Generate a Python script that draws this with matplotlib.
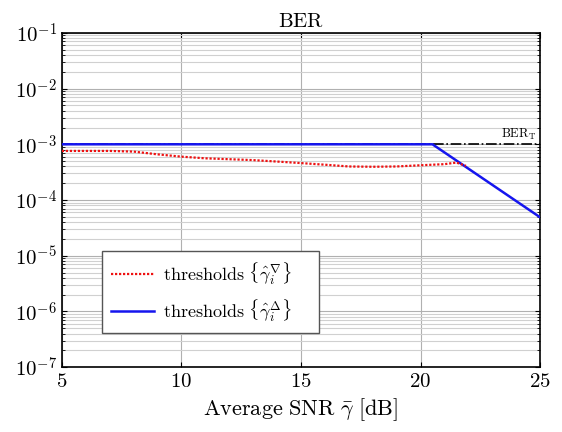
import matplotlib
matplotlib.use("Agg")
import matplotlib.pyplot as plt
import numpy as np

plt.rcParams['mathtext.fontset'] = 'cm'
plt.rcParams['font.family'] = ['DejaVu Serif']

snr_red = [5, 6, 7, 8, 9, 10, 11, 12, 13, 14, 15, 16, 17, 18, 19, 20, 21, 21.5, 21.9]
ber_red = [7.6e-4, 7.6e-4, 7.6e-4, 7.4e-4, 6.6e-4, 6.0e-4, 5.6e-4, 5.4e-4, 5.2e-4, 4.9e-4,
           4.6e-4, 4.3e-4, 4.0e-4, 3.95e-4, 4.0e-4, 4.2e-4, 4.4e-4, 4.7e-4, 4.1e-4]
snr_blue = [5, 20.5, 25]
ber_blue = [1e-3, 1e-3, 4.9e-5]
ber_target = 1e-3
xticks = [5, 10, 15, 20, 25]

fig = plt.figure(figsize=(5.62, 4.32), dpi=100)
ax = fig.add_axes([0.110, 0.150, 0.851, 0.774])

ax.plot([5, 25], [ber_target, ber_target], color='black', linestyle='-.', lw=1.2, zorder=3)
ax.plot(snr_blue, ber_blue, color='#1515ee', lw=1.8, zorder=4,
        label=r'$\mathrm{thresholds}\ \{\hat{\gamma}_i^{\Delta}\}$')
ax.plot(snr_red, ber_red, color='#ee1111', linestyle=(0, (1, 0.8)), lw=1.6, zorder=5,
        label=r'$\mathrm{thresholds}\ \{\hat{\gamma}_i^{\nabla}\}$')

ax.set_yscale('log')
ax.set_xlim(5, 25)
ax.set_ylim(1e-7, 1e-1)
ax.set_xticks(xticks)
ax.set_xticklabels([r'$%d$' % v for v in xticks], fontsize=15)
ax.set_yticks([10.0**k for k in range(-7, 0)])
ax.set_yticklabels([r'$10^{%d}$' % k for k in range(-7, 0)], fontsize=15)
ax.grid(True, which='major', color='#b0b0b0', lw=0.8)
ax.grid(True, which='minor', axis='y', color='#d0d0d0', lw=0.8)
ax.tick_params(direction='in', which='both', top=True, right=True)
for s in ax.spines.values():
    s.set_linewidth(1.2)

ax.set_title(r'$\mathrm{BER}$', fontsize=15, pad=4)
ax.set_xlabel(r'$\mathrm{Average\ SNR}\ \bar{\gamma}\ \mathrm{[dB]}$', fontsize=16)
ax.text(24.1, 1.12e-3, r'$\mathrm{BER}_\mathrm{T}$', fontsize=9, ha='center', va='bottom')

h, l = ax.get_legend_handles_labels()
leg = ax.legend([h[1], h[0]], [l[1], l[0]], loc='upper left',
                bbox_to_anchor=(0.084, 0.10, 0.454, 0.247), mode='expand',
                fontsize=13, fancybox=False, edgecolor='#555555', framealpha=1,
                labelspacing=0.6, borderpad=0.5, borderaxespad=0, handlelength=2.4,
                handletextpad=0.5)
leg.get_frame().set_linewidth(1.0)

fig.savefig('out.png', dpi=100)
